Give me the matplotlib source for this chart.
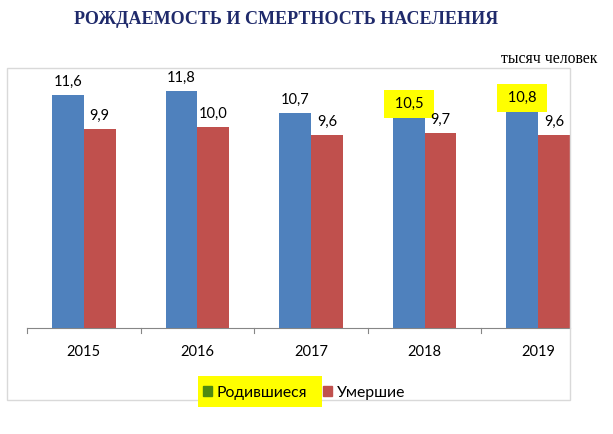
import numpy as np
import matplotlib
matplotlib.use('Agg')
import matplotlib.pyplot as plt
from matplotlib.patches import Rectangle, Patch

years = ['2015', '2016', '2017', '2018', '2019']
born = [11.6, 11.8, 10.7, 10.5, 10.8]
died = [9.9, 10.0, 9.6, 9.7, 9.6]
highlighted = ['2018', '2019']

plt.rcParams['font.family'] = ['Lato', 'DejaVu Sans']

fig = plt.figure(figsize=(6.13, 4.34), dpi=100)

# outer chart frame
fig.patches.append(Rectangle((7/613, 1 - 400/434), (570-7)/613, (400-68)/434,
                             transform=fig.transFigure, fill=False,
                             edgecolor='#d9d9d9', linewidth=1))

ax = fig.add_axes([27/613, 1 - 328/434, (570-27)/613, (328-77)/434])

x = np.arange(len(years))
w = 0.28
ax.bar(x - w/2, born, w, color='#4f81bd', label='Родившиеся', zorder=3)
ax.bar(x + w/2, died, w, color='#c0504d', label='Умершие', zorder=3)

for i in range(len(years)):
    lbl = f'{born[i]:.1f}'.replace('.', ',')
    if years[i] in highlighted:
        ax.text(x[i] - w/2, born[i] + 0.32, ' ' + lbl + ' ', ha='center', va='bottom',
                fontsize=10.5, bbox=dict(facecolor='#ffff00', edgecolor='none', pad=5))
    else:
        ax.text(x[i] - w/2, born[i] + 0.32, lbl, ha='center', va='bottom', fontsize=10.5)
    ax.text(x[i] + w/2, died[i] + 0.32, f'{died[i]:.1f}'.replace('.', ','),
            ha='center', va='bottom', fontsize=10.5)

ax.set_xlim(-0.5, 4.28)
ax.set_ylim(0, 12.5)
ax.set_yticks([])
ax.set_xticks(x)
ax.set_xticklabels(years, fontsize=10.5)
ax.tick_params(axis='x', length=0, pad=12)
for xt in np.arange(-0.5, 4.5, 1):
    ax.plot([xt, xt], [0, -0.25], color='#868686', lw=0.8, clip_on=False)
for s in ['top', 'right', 'left']:
    ax.spines[s].set_visible(False)
ax.spines['bottom'].set_color('#868686')

fig.text(286/613, 1 - 20/434, 'РОЖДАЕМОСТЬ И СМЕРТНОСТЬ НАСЕЛЕНИЯ',
         family='Liberation Serif', weight='bold', fontsize=13,
         color='#1f2a6b', ha='center', va='center')
fig.text(597/613, 1 - 59/434, 'тысяч человек', family='Liberation Serif',
         fontsize=11.3, ha='right', va='center')

# yellow marker highlight behind the first legend entry
fig.patches.append(Rectangle((198/613, 1 - 407/434), 124/613, 31/434,
                             transform=fig.transFigure, facecolor='#ffff00',
                             edgecolor='none'))

handles = [Patch(color='#4f8a10', label='Родившиеся'),
           Patch(color='#c0504d', label='Умершие')]
leg = fig.legend(handles=handles, loc='center', bbox_to_anchor=(304/613, 1 - 393/434),
                 ncol=2, frameon=False, fontsize=11.3, handlelength=0.6,
                 handleheight=0.6, handletextpad=0.3, columnspacing=1.0)

fig.savefig('out.png', dpi=100)
